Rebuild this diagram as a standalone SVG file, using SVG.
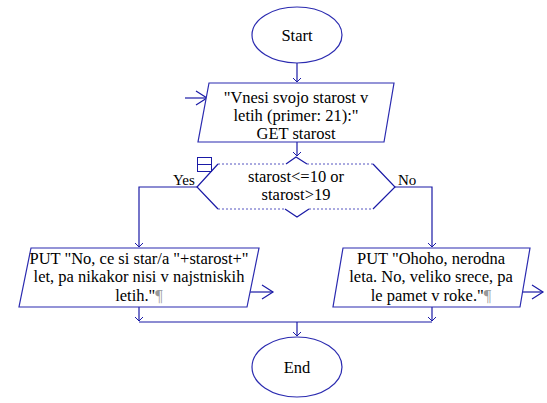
<svg xmlns="http://www.w3.org/2000/svg" width="547" height="403" viewBox="0 0 547 403" font-family="'Liberation Serif', 'Times New Roman', serif" font-size="16.5">
<defs>
<style>
.shape{fill:#fff;stroke:#2b2bb0;stroke-width:1.2}
.line{fill:none;stroke:#1a1aa6;stroke-width:1.2}
.dash{fill:none;stroke:#5555c0;stroke-width:1;stroke-dasharray:2,2}
.t{fill:#000;text-anchor:middle}
.lbl{font-size:15px;fill:#000;text-anchor:start}
.pil{fill:#999}
</style>
<marker id="sa" markerWidth="10" markerHeight="10" refX="5" refY="5" orient="auto" markerUnits="userSpaceOnUse">
<path d="M1,1 L5,5 L1,9" fill="none" stroke="#1a1aa6" stroke-width="1"/>
</marker>
<marker id="ba" markerWidth="14" markerHeight="18" refX="12" refY="9" orient="auto" markerUnits="userSpaceOnUse">
<path d="M1,2 L12,9 L1,16" fill="none" stroke="#1a1aa6" stroke-width="1.2"/>
</marker>
</defs>
<g id="connectors">
<path class="line" d="M297,63 V82" marker-end="url(#sa)"/>
<path class="line" d="M185,98 H207" marker-end="url(#ba)"/>
<path class="line" d="M297,142 V156" marker-end="url(#sa)"/>
<path class="line" d="M197,187 H139 V247" marker-end="url(#sa)"/>
<path class="line" d="M395,187 H432 V247" marker-end="url(#sa)"/>
<path class="line" d="M250,292 H273" marker-end="url(#ba)"/>
<path class="line" d="M522,292 H543" marker-end="url(#ba)"/>
<path class="line" d="M139,307 V321" marker-end="url(#sa)"/>
<path class="line" d="M432,307 V321" marker-end="url(#sa)"/>
<path class="line" d="M139,322 H432"/>
<path class="line" d="M297,322 V336" marker-end="url(#sa)"/>
<text class="lbl" x="173" y="185">Yes</text>
<text class="lbl" x="398" y="185">No</text>
</g>
<g id="start">
<ellipse class="shape" cx="297" cy="35" rx="45" ry="28"/>
<text class="t" x="297" y="41">Start</text>
</g>
<g id="input">
<polygon class="shape" points="209,83 394,83 384,142 198,142"/>
<text class="t" x="296" y="103">"Vnesi svojo starost v</text>
<text class="t" x="296" y="121">letih (primer: 21):"</text>
<text class="t" x="296" y="139">GET starost</text>
</g>
<g id="decision">
<path class="dash" d="M218,164 H286 M307,164 H373 M218,209 H285 M309,209 H373"/>
<path class="line" d="M218,164 L197,187 L218,209 M373,164 L395,187 L373,209 M286,164 L296,157 L307,164 M285,209 L297,217 L309,209" stroke="#3a3ab8"/>
<rect x="197.5" y="157.5" width="14" height="14" fill="#fff" stroke="#1a1aa6" stroke-width="1"/>
<path d="M197.5,164.5 H211.5" stroke="#1a1aa6" stroke-width="1"/>
<text class="t" x="296" y="182">starost&lt;=10 or</text>
<text class="t" x="296" y="200">starost&gt;19</text>
</g>
<g id="output-yes">
<polygon class="shape" points="31,248 259,248 247,307 19,307"/>
<text class="t" x="139" y="264">PUT "No, ce si star/a "+starost+"</text>
<text class="t" x="139" y="282">let, pa nikakor nisi v najstniskih</text>
<text class="t" x="139" y="301">letih."<tspan class="pil">¶</tspan></text>
</g>
<g id="output-no">
<polygon class="shape" points="343,248 530,248 520,307 333,307"/>
<text class="t" x="431" y="264">PUT "Ohoho, nerodna</text>
<text class="t" x="431" y="282">leta. No, veliko srece, pa</text>
<text class="t" x="431" y="301">le pamet v roke."<tspan class="pil">¶</tspan></text>
</g>
<g id="end">
<ellipse class="shape" cx="297" cy="367" rx="45" ry="30"/>
<text class="t" x="297" y="373">End</text>
</g>
</svg>
